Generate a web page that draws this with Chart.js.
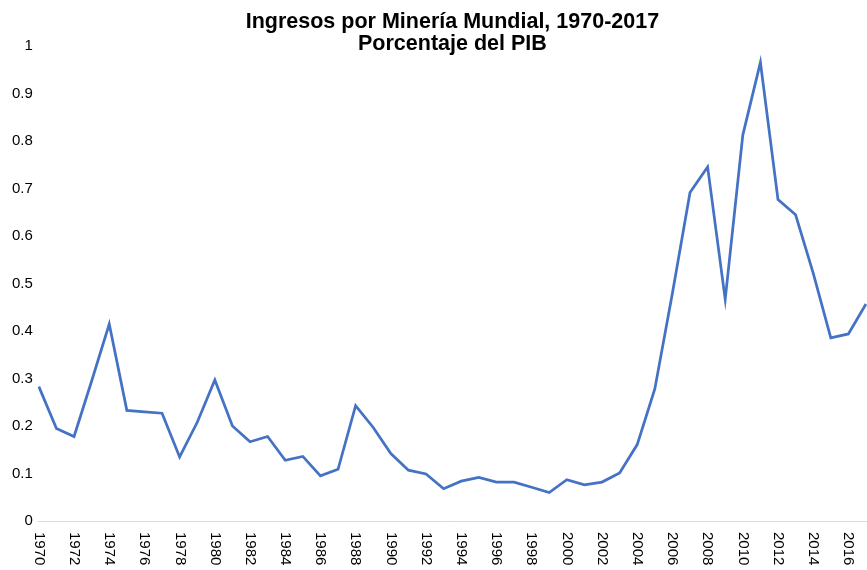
<!DOCTYPE html>
<html>
<head>
<meta charset="utf-8">
<script src="https://cdn.jsdelivr.net/npm/chart.js@4"></script>
<style>
  html, body { margin: 0; padding: 0; background: #fff; }
  #wrap { width: 867px; height: 570px; }
</style>
</head>
<body>
<div id="wrap"><canvas id="chart"></canvas></div>
<script>
// years 1970-2017
const years = [
  "1970","1971","1972","1973","1974","1975","1976","1977","1978","1979",
  "1980","1981","1982","1983","1984","1985","1986","1987","1988","1989",
  "1990","1991","1992","1993","1994","1995","1996","1997","1998","1999",
  "2000","2001","2002","2003","2004","2005","2006","2007","2008","2009",
  "2010","2011","2012","2013","2014","2015","2016","2017"
];

// mining rents, % of GDP
const rents = [
  0.283, 0.195, 0.178, 0.295, 0.415, 0.233, 0.230, 0.227, 0.135, 0.208,
  0.297, 0.200, 0.167, 0.178, 0.128, 0.136, 0.095, 0.109, 0.243, 0.197,
  0.142, 0.107, 0.099, 0.068, 0.084, 0.092, 0.082, 0.082, 0.071, 0.060,
  0.087, 0.076, 0.082, 0.101, 0.161, 0.278, 0.480, 0.692, 0.746, 0.467,
  0.813, 0.966, 0.677, 0.645, 0.522, 0.386, 0.394, 0.457
];

const yTicks = ["0", "0.1", "0.2", "0.3", "0.4", "0.5", "0.6", "0.7", "0.8", "0.9", "1"];

const titleLines = ["Ingresos por Minería Mundial, 1970-2017", "Porcentaje del PIB"];
const FONT = "'Liberation Sans', Arial, sans-serif";

// x labels go top-to-bottom (clockwise), so draw them by hand at the scale's positions
const verticalLabels = {
  id: "verticalLabels",
  afterDraw(chart) {
    const xs = chart.scales.x;
    const ctx = chart.ctx;
    ctx.save();
    ctx.font = "15px " + FONT;
    ctx.fillStyle = "#000";
    ctx.textAlign = "left";
    ctx.textBaseline = "middle";
    years.forEach((y, i) => {
      if (i % 2 !== 0) return;
      const px = xs.getPixelForValue(i);
      ctx.save();
      ctx.translate(px, chart.chartArea.bottom + 11);
      ctx.rotate(Math.PI / 2);
      ctx.fillText(y, 0, 0);
      ctx.restore();
    });
    ctx.restore();
  }
};

new Chart(document.getElementById("chart"), {
  type: "line",
  data: {
    labels: years,
    datasets: [{
      data: rents,
      borderColor: "#4472C4",
      borderWidth: 2.75,
      pointRadius: 0,
      tension: 0,
      fill: false
    }]
  },
  options: {
    responsive: true,
    maintainAspectRatio: false,
    animation: false,
    layout: { padding: { left: 6, right: 1, top: 0, bottom: 49 } },
    plugins: {
      legend: { display: false },
      tooltip: { enabled: false },
      title: {
        display: true,
        fullSize: false,
        text: titleLines,
        color: "#000",
        font: { family: FONT, size: 21.5, weight: "bold", lineHeight: 1.03 },
        padding: { top: 11, bottom: -9 }
      }
    },
    scales: {
      x: {
        offset: false,
        grid: { display: false, drawTicks: false },
        border: { display: true, color: "#d9d9d9", width: 1 },
        ticks: { display: false }
      },
      y: {
        min: 0,
        max: 1,
        grid: { display: false, drawTicks: false },
        border: { display: false },
        ticks: {
          stepSize: 0.1,
          color: "#000",
          padding: 6,
          font: { family: FONT, size: 15 },
          callback: (v, i) => yTicks[i]
        }
      }
    }
  },
  plugins: [verticalLabels]
});
</script>
</body>
</html>
